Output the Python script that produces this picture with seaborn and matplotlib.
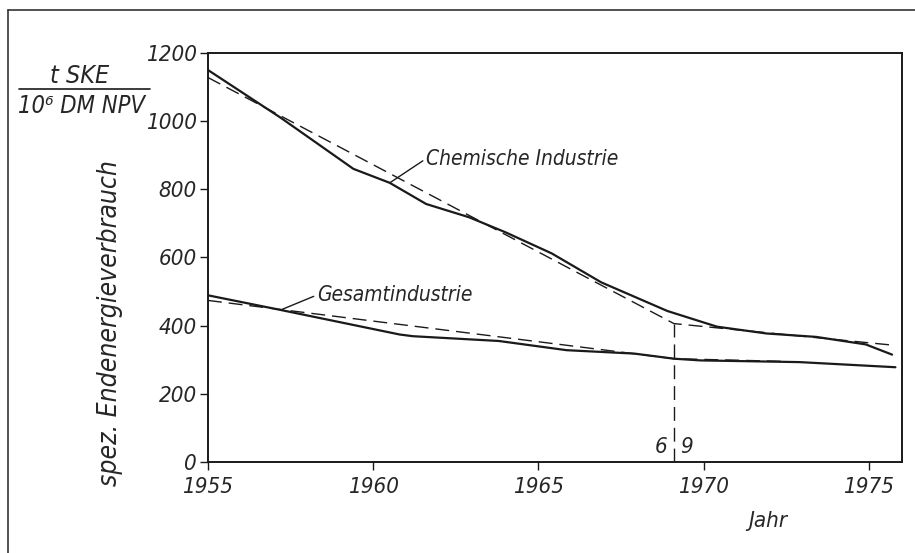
import matplotlib
matplotlib.use('Agg')
import matplotlib.pyplot as plt
import seaborn as sns
import pandas as pd
from matplotlib.lines import Line2D

# solid curves
years_chem = [1955, 1957.2, 1959.4, 1960.5, 1961.6, 1962.9, 1964.0, 1965.4, 1966.9,
              1968.9, 1970.4, 1971.9, 1973.4, 1974.9, 1975.7]
chem = [1150, 1010, 860, 819, 757, 718, 674, 612, 527, 443, 397, 377, 367, 345, 315]

years_ges = [1955, 1957.2, 1960.8, 1961.2, 1963.8, 1965.85, 1967.9, 1969.1, 1969.9,
             1972.9, 1975.8]
ges = [489, 446, 374, 369, 355, 328, 318, 303, 298, 293, 278]

# dashed trend lines
trend_chem_years = [1955, 1969.1, 1975.8]
trend_chem = [1128, 406, 342]
trend_ges_years = [1955, 1969.1, 1972.5]
trend_ges = [474, 303, 295]

knick_year = 1969.1
knick_value = 406

xticks = [1955, 1960, 1965, 1970, 1975]
yticks = [0, 200, 400, 600, 800, 1000, 1200]

sns.set_style('ticks')
plt.rcParams['font.family'] = ['DejaVu Sans']
plt.rcParams['font.style'] = 'italic'
plt.rcParams['font.stretch'] = 'condensed'

ink = '#1a1a1a'

fig = plt.figure(figsize=(9.15, 5.53), dpi=100)
ax = fig.add_axes([0.2273, 0.1646, 0.7585, 0.7396])

df_chem = pd.DataFrame({'Jahr': years_chem, 'Wert': chem})
df_ges = pd.DataFrame({'Jahr': years_ges, 'Wert': ges})
sns.lineplot(data=df_chem, x='Jahr', y='Wert', color=ink, lw=1.6, ax=ax, sort=False)
sns.lineplot(data=df_ges, x='Jahr', y='Wert', color=ink, lw=1.6, ax=ax, sort=False)

dash = (10, 5)
sns.lineplot(x=trend_chem_years, y=trend_chem, color=ink, lw=1.0, ax=ax,
             sort=False).lines[-1].set_dashes(dash)
sns.lineplot(x=trend_ges_years, y=trend_ges, color=ink, lw=1.0, ax=ax,
             sort=False).lines[-1].set_dashes(dash)
ax.plot([knick_year, knick_year], [0, knick_value], color=ink, lw=1.0, dashes=dash)

ax.set_xlim(1955, 1976)
ax.set_ylim(0, 1200)
ax.set_xticks(xticks)
ax.set_yticks(yticks)
ax.set_xticklabels([str(t) for t in xticks], fontsize=16)
ax.set_yticklabels([str(t) for t in yticks], fontsize=16)
ax.tick_params(axis='x', length=6, width=1, pad=5, color=ink)
ax.tick_params(axis='y', length=6, width=1, pad=2, color=ink)
for s in ax.spines.values():
    s.set_linewidth(1.4)
    s.set_color(ink)
ax.set_xlabel('')
ax.set_ylabel('')

ax.text(0.807, -0.145, 'Jahr', transform=ax.transAxes, fontsize=16,
        ha='center', va='center')
ax.text(-0.141, 0.34, 'spez. Endenergieverbrauch', transform=ax.transAxes,
        fontsize=19, rotation=90, ha='center', va='center')

# curve labels with leader lines
ax.annotate('Chemische Industrie', xy=(1960.5, 819), xytext=(1961.6, 890),
            fontsize=15, va='center', ha='left',
            arrowprops=dict(arrowstyle='-', color=ink, lw=1.0,
                            shrinkA=0, shrinkB=0, relpos=(0, 0.5)))
ax.annotate('Gesamtindustrie', xy=(1957.2, 446), xytext=(1958.3, 490),
            fontsize=15, va='center', ha='left',
            arrowprops=dict(arrowstyle='-', color=ink, lw=1.0,
                            shrinkA=0, shrinkB=0, relpos=(0, 0.5)))
ax.text(knick_year - 0.2, 45, '6', fontsize=16, ha='right', va='center')
ax.text(knick_year + 0.2, 45, '9', fontsize=16, ha='left', va='center')

# unit fraction at top left
fig.text(80 / 915, 1 - 76 / 553, 't SKE', fontsize=18, ha='center', va='center')
fig.text(82 / 915, 1 - 106 / 553, '10⁶ DM NPV', fontsize=17, ha='center', va='center')
fig.add_artist(Line2D([19 / 915, 150 / 915], [1 - 89 / 553, 1 - 89 / 553],
                      color=ink, lw=1.2))

# drawing frame
fig.add_artist(Line2D([8 / 915, 1], [1 - 10 / 553, 1 - 10 / 553], color='#333333', lw=1.2))
fig.add_artist(Line2D([8 / 915, 8 / 915], [0, 1 - 10 / 553], color='#333333', lw=1.2))

fig.savefig('out.png', dpi=100)
